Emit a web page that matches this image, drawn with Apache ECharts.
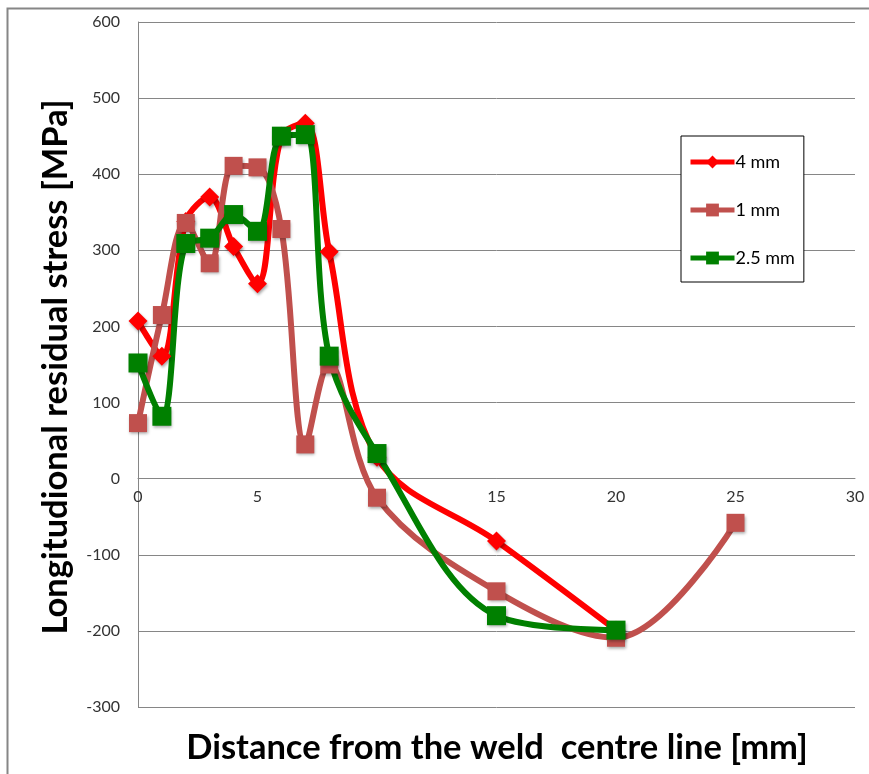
<!DOCTYPE html>
<html>
<head>
<meta charset="utf-8">
<script src="https://cdn.jsdelivr.net/npm/echarts@6/dist/echarts.min.js"></script>
<style>
html,body{margin:0;padding:0;background:#fff;}
#c{width:869px;height:774px;}
</style>
</head>
<body>
<div id="c"></div>
<script>
// Data
const xTitle = 'Distance from the weld  centre line [mm]';
const yTitle = 'Longitudional residual stress [MPa]';
const seriesNames = ['4 mm', '1 mm', '2.5 mm'];

const x4mm = [0, 1, 2, 3, 4, 5, 6, 7, 8, 10, 15, 20];
const y4mm = [207, 161, 338, 370, 305, 256, 450, 467, 298, 28, -82, -199];

const x1mm = [0, 1, 2, 3, 4, 5, 6, 7, 8, 10, 15, 20, 25];
const y1mm = [73, 215, 336, 283, 411, 409, 328, 45, 150, -25, -148, -209, -58];

const x25mm = [0, 1, 2, 3, 4, 5, 6, 7, 8, 10, 15, 20];
const y25mm = [152, 82, 309, 316, 347, 325, 450, 452, 161, 33, -180, -199];

const xTicks = {min: 0, max: 30, step: 5};
const yTicks = {min: -300, max: 600, step: 100};

const colors = ['#FF0000', '#C0504D', '#008000'];

function pairs(xs, ys){ return xs.map((x, i) => [x, ys[i]]); }

const font = 'Lato, "Liberation Sans", sans-serif';
const chart = echarts.init(document.getElementById('c'), null, {renderer: 'canvas'});

const shadow = {shadowBlur: 3, shadowOffsetX: 1, shadowOffsetY: 2, shadowColor: 'rgba(0,0,0,0.35)'};

const gridTop = 22, gridBottom = 67, H = 774;
const plotH = H - gridTop - gridBottom;
// distance from the bottom edge of the plot to the zero line, through the axis range
const zeroOffset = -plotH * (0 - yTicks.min) / (yTicks.max - yTicks.min);

const option = {
  animation: false,
  backgroundColor: '#ffffff',
  grid: {left: 138, right: 14, top: gridTop, bottom: gridBottom, containLabel: false},
  xAxis: {
    type: 'value', min: xTicks.min, max: xTicks.max, interval: xTicks.step,
    position: 'bottom', offset: zeroOffset,
    axisLine: {show: true, onZero: false, lineStyle: {color: '#868686', width: 1}},
    axisTick: {show: false},
    splitLine: {show: false},
    axisLabel: {color: '#333333', fontSize: 16, fontFamily: font, margin: 10}
  },
  yAxis: {
    type: 'value', min: yTicks.min, max: yTicks.max, interval: yTicks.step,
    axisLine: {show: true, onZero: false, lineStyle: {color: '#868686', width: 1}},
    axisTick: {show: false},
    splitLine: {show: true, lineStyle: {color: '#868686', width: 1}},
    axisLabel: {color: '#333333', fontSize: 16, fontFamily: font, margin: 18}
  },
  legend: {
    orient: 'vertical',
    left: 681, top: 136,
    padding: [17, 9, 15, 7],
    itemGap: 30,
    itemWidth: 44, itemHeight: 16,
    borderColor: '#000', borderWidth: 1,
    backgroundColor: '#fff',
    lineStyle: {width: 5},
    textStyle: {color: '#000', fontSize: 18, fontFamily: font, padding: [0, 0, 0, -4]},
    data: seriesNames
  },
  graphic: [
    {type: 'rect', silent: true, z: -10, shape: {x: 7.5, y: 8.5, width: 900, height: 900},
     style: {fill: null, stroke: '#868686', lineWidth: 2}},
    {type: 'text', silent: true, x: 497, y: 748,
     style: {text: xTitle, font: 'bold 34.5px ' + font, fill: '#000', align: 'center', verticalAlign: 'middle'}},
    {type: 'text', silent: true, rotation: Math.PI / 2, x: 56, y: 367,
     style: {text: yTitle, font: 'bold 34.5px ' + font, fill: '#000', align: 'center', verticalAlign: 'middle'}}
  ],
  series: [
    {name: seriesNames[0], type: 'line', data: pairs(x4mm, y4mm), smooth: 0.35,
     symbol: 'diamond', symbolSize: 19,
     lineStyle: {color: colors[0], width: 6},
     itemStyle: Object.assign({color: colors[0]}, shadow)},
    {name: seriesNames[1], type: 'line', data: pairs(x1mm, y1mm), smooth: 0.35,
     symbol: 'rect', symbolSize: 18,
     lineStyle: {color: colors[1], width: 6},
     itemStyle: Object.assign({color: colors[1]}, shadow)},
    {name: seriesNames[2], type: 'line', data: pairs(x25mm, y25mm), smooth: 0.35,
     symbol: 'rect', symbolSize: 19,
     lineStyle: {color: colors[2], width: 6},
     itemStyle: Object.assign({color: colors[2]}, shadow)}
  ]
};
chart.setOption(option);
</script>
</body>
</html>
